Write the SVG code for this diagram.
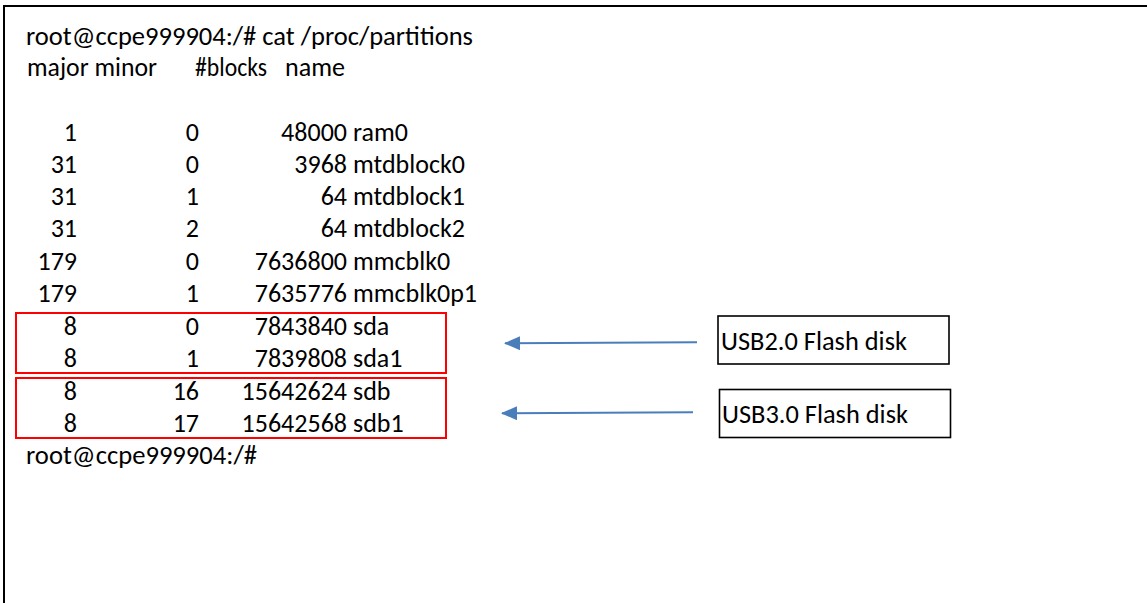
<svg xmlns="http://www.w3.org/2000/svg" width="1147" height="603" viewBox="0 0 1147 603">
  <style>
    .t { font-family: Calibri, Carlito, "Liberation Sans", Arial, sans-serif; font-size: 26px; fill: #000; }
    .r { text-anchor: end; }
    .frame { fill: none; stroke: #000; stroke-width: 2; }
    .hl { fill: none; stroke: #FF0000; stroke-width: 2; }
    .lbl { fill: #fff; stroke: #000; stroke-width: 1.6; }
    .lt { font-family: Calibri, Carlito, "Liberation Sans", Arial, sans-serif; font-size: 26px; fill: #000; }
    .arrow { fill: none; stroke: #4A7EBB; stroke-width: 2; marker-end: url(#head); }
  </style>
  <defs>
    <marker id="head" viewBox="0 0 16 14" refX="15" refY="7" markerWidth="16" markerHeight="14" markerUnits="userSpaceOnUse" orient="auto">
      <path d="M0,0 L16,7 L0,14 Z" fill="#4A7EBB"/>
    </marker>
  </defs>

  <rect width="1147" height="603" fill="#fff"/>

  <!-- terminal window border (runs off the right and bottom edges) -->
  <path class="frame" d="M4,603 V6 H1147"/>

  <!-- cat /proc/partitions output -->
  <g id="terminal">
    <text class="t" x="26" y="45" textLength="447" lengthAdjust="spacingAndGlyphs">root@ccpe999904:/# cat /proc/partitions</text>
    <text class="t" x="27" y="76" textLength="130" lengthAdjust="spacingAndGlyphs">major minor</text>
    <text class="t" x="195" y="76" textLength="72" lengthAdjust="spacingAndGlyphs">#blocks</text>
    <text class="t" x="285" y="76" textLength="60" lengthAdjust="spacingAndGlyphs">name</text>

    <g id="row-ram0">
      <text class="t r" x="77" y="141">1</text><text class="t r" x="199" y="141">0</text>
      <text class="t r" x="347" y="141">48000</text><text class="t" x="353" y="141">ram0</text>
    </g>
    <g id="row-mtdblock0">
      <text class="t r" x="77" y="173">31</text><text class="t r" x="199" y="173">0</text>
      <text class="t r" x="347" y="173">3968</text><text class="t" x="353" y="173">mtdblock0</text>
    </g>
    <g id="row-mtdblock1">
      <text class="t r" x="77" y="205">31</text><text class="t r" x="199" y="205">1</text>
      <text class="t r" x="347" y="205">64</text><text class="t" x="353" y="205">mtdblock1</text>
    </g>
    <g id="row-mtdblock2">
      <text class="t r" x="77" y="237">31</text><text class="t r" x="199" y="237">2</text>
      <text class="t r" x="347" y="237">64</text><text class="t" x="353" y="237">mtdblock2</text>
    </g>
    <g id="row-mmcblk0">
      <text class="t r" x="77" y="270">179</text><text class="t r" x="199" y="270">0</text>
      <text class="t r" x="347" y="270">7636800</text><text class="t" x="353" y="270">mmcblk0</text>
    </g>
    <g id="row-mmcblk0p1">
      <text class="t r" x="77" y="302">179</text><text class="t r" x="199" y="302">1</text>
      <text class="t r" x="347" y="302">7635776</text><text class="t" x="353" y="302">mmcblk0p1</text>
    </g>
    <g id="row-sda">
      <text class="t r" x="77" y="335">8</text><text class="t r" x="199" y="335">0</text>
      <text class="t r" x="347" y="335">7843840</text><text class="t" x="353" y="335">sda</text>
    </g>
    <g id="row-sda1">
      <text class="t r" x="77" y="367">8</text><text class="t r" x="199" y="367">1</text>
      <text class="t r" x="347" y="367">7839808</text><text class="t" x="353" y="367">sda1</text>
    </g>
    <g id="row-sdb">
      <text class="t r" x="77" y="400">8</text><text class="t r" x="199" y="400">16</text>
      <text class="t r" x="347" y="400">15642624</text><text class="t" x="353" y="400">sdb</text>
    </g>
    <g id="row-sdb1">
      <text class="t r" x="77" y="432">8</text><text class="t r" x="199" y="432">17</text>
      <text class="t r" x="347" y="432">15642568</text><text class="t" x="353" y="432">sdb1</text>
    </g>

    <text class="t" x="26" y="464" textLength="231" lengthAdjust="spacingAndGlyphs">root@ccpe999904:/#</text>
  </g>

  <!-- highlighted USB partitions -->
  <g id="highlight-sda">
    <rect class="hl" x="16" y="313" width="430" height="60"/>
  </g>
  <g id="highlight-sdb">
    <rect class="hl" x="16" y="378" width="430" height="60"/>
  </g>

  <!-- callout labels -->
  <g id="label-usb2">
    <rect class="lbl" x="718" y="316" width="231" height="48"/>
    <text class="lt" x="721" y="350" textLength="186" lengthAdjust="spacingAndGlyphs">USB2.0 Flash disk</text>
  </g>
  <g id="label-usb3">
    <rect class="lbl" x="719.5" y="389.5" width="231" height="48"/>
    <text class="lt" x="722" y="423" textLength="186" lengthAdjust="spacingAndGlyphs">USB3.0 Flash disk</text>
  </g>

  <!-- arrows from labels to the highlighted rows -->
  <g id="connectors">
    <path class="arrow" d="M697,342.3 L505,343.3"/>
    <path class="arrow" d="M693,412.3 L502,413.3"/>
  </g>
</svg>
